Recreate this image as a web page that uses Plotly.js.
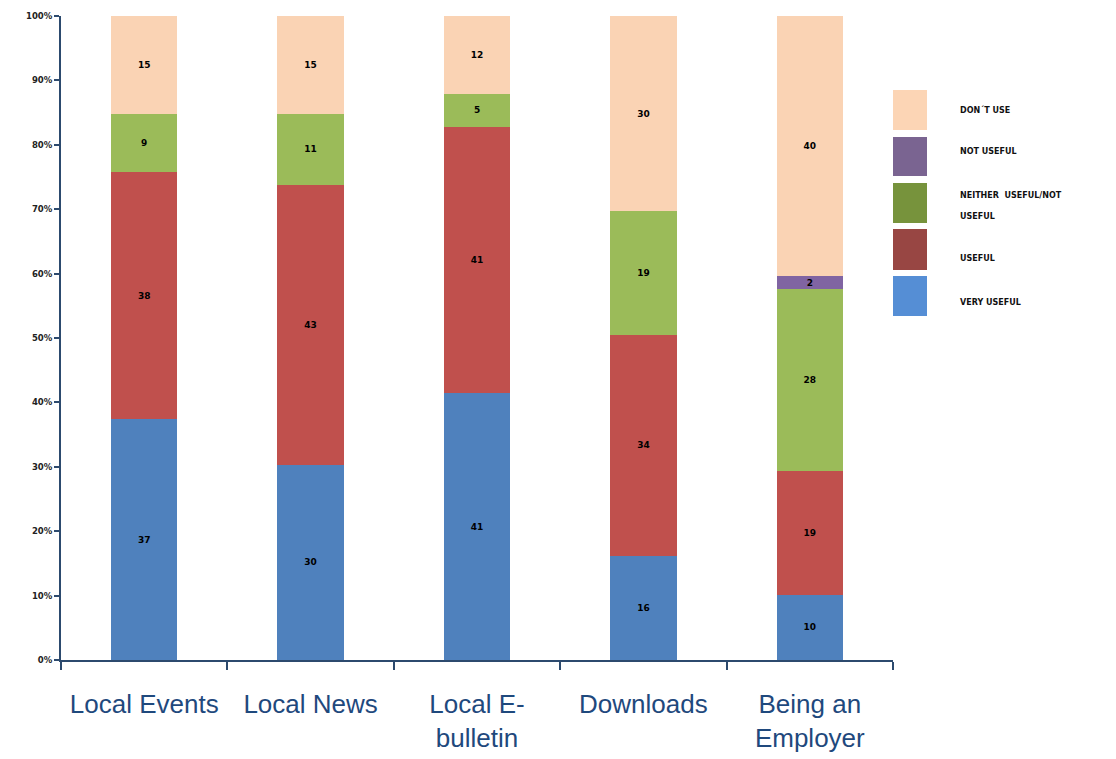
<!DOCTYPE html>
<html><head><meta charset="utf-8">
<script src="https://cdn.plot.ly/plotly-3.0.1.min.js"></script>
<style>html,body{margin:0;padding:0;background:#fff}#chart{width:1116px;height:759px}</style>
</head><body><div id="chart"></div>
<script>
const categories = ["Local Events", "Local News", "Local E-<br>bulletin", "Downloads", "Being an<br>Employer"];
const seriesNames = ["VERY USEFUL", "USEFUL", "NEITHER  USEFUL/NOT<br>USEFUL", "NOT USEFUL", "DON´T USE"];
const veryUseful = [37, 30, 41, 16, 10];
const useful = [38, 43, 41, 34, 19];
const neither = [9, 11, 5, 19, 28];
const notUseful = [null, null, null, null, 2];
const dontUse = [15, 15, 12, 30, 40];
const seriesValues = [veryUseful, useful, neither, notUseful, dontUse];
const barColors = ["#4F81BD", "#C0504D", "#9BBB59", "#8064A2", "#FAD3B4"];
const legendColors = ["#558ED5", "#984643", "#77933C", "#7A6491", "#FCD5B5"];

const traces = seriesValues.map((vals, i) => ({
  type: 'bar', x: categories, y: vals, name: seriesNames[i],
  marker: {color: barColors[i], line: {width: 0}},
  text: vals.map(v => v == null ? '' : String(v)),
  textposition: 'inside', insidetextanchor: 'middle', textangle: 0,
  constraintext: 'none',
  textfont: {family: 'DejaVu Sans', size: 9, color: '#000', weight: 'bold'},
  hoverinfo: 'skip', showlegend: false
}));

// plot area in pixels
const L = 61, R = 893, T = 16, B = 660;
const px = x => (x - L) / (R - L);
const py = y => (B - y) / (B - T);

// custom legend (top to bottom: reversed order)
const legendBoxes = [[90,130],[137,176],[183,223],[229,270],[276,316]];
const legendTextY = [110, 152, 196, 258, 302];
const shapes = [], annotations = [];
for (let k = 0; k < 5; k++) {
  const i = 4 - k;
  shapes.push({type:'rect', xref:'paper', yref:'paper', x0: px(893), x1: px(927),
    y0: py(legendBoxes[k][1]), y1: py(legendBoxes[k][0]),
    fillcolor: legendColors[i], line:{width:0}});
  seriesNames[i].split('<br>').forEach((line, j) => {
    annotations.push({xref:'paper', yref:'paper', x: px(958), y: py(legendTextY[k] + 20 * j),
      xanchor:'left', yanchor:'middle', align:'left', showarrow:false,
      text: line, font:{family:'DejaVu Sans', size:8, color:'#111', weight:'bold'}});
  });
}

const layout = {
  width: 1116, height: 759,
  margin: {l: L, r: 1116 - R, t: T, b: 759 - B},
  paper_bgcolor: '#fff', plot_bgcolor: '#fff',
  barmode: 'stack', barnorm: 'percent', bargap: 0.6,
  showlegend: false,
  xaxis: {
    showline: true, linecolor: '#2C4A6E', linewidth: 2,
    ticks: 'outside', tickson: 'boundaries', ticklen: 8, tickcolor: '#2C4A6E', tickwidth: 2,
    ticklabelstandoff: 20,
    tickfont: {family: 'Liberation Sans Narrow, Arial Narrow, sans-serif', size: 26, color: '#1F497D'},
    showgrid: false, zeroline: false, fixedrange: true
  },
  yaxis: {
    range: [0, 100], dtick: 10, ticksuffix: '%',
    showline: true, linecolor: '#2C4A6E', linewidth: 2,
    ticks: 'outside', ticklen: 5, tickcolor: '#2C4A6E', tickwidth: 2,
    tickfont: {family: 'DejaVu Sans', size: 8.5, color: '#222', weight: 'bold'},
    showgrid: false, zeroline: false, fixedrange: true
  },
  shapes: shapes, annotations: annotations,
  font: {family: 'DejaVu Sans'}
};
Plotly.newPlot('chart', traces, layout, {displayModeBar: false, staticPlot: true});
</script></body></html>
